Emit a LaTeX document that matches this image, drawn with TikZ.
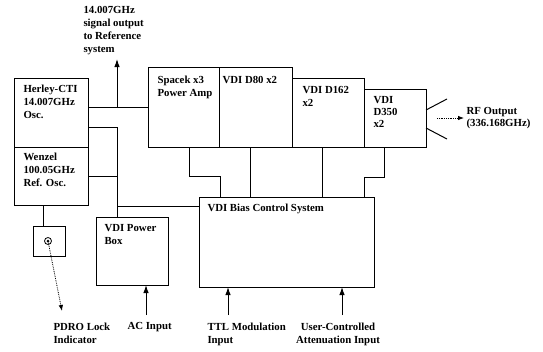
\documentclass[tikz,border=0pt]{standalone}
\usepackage{fontspec}
\setmainfont{Liberation Serif}
\usetikzlibrary{arrows.meta,calc}
\begin{document}
\begin{tikzpicture}[x=1pt,y=-1pt,line width=1pt,
  blk/.style={draw,anchor=north west,inner sep=0pt,outer sep=0pt},
  txt/.style={anchor=north west,inner sep=0pt,align=left,font=\bfseries\fontsize{10.8}{13}\selectfont},
  arr/.style={-{Latex[length=8pt,width=5.5pt]}},
  dotarr/.style={densely dotted,line width=0.8pt,-{Latex[length=6pt,width=4.5pt]}}]
\useasboundingbox (0,0) rectangle (543,351);
% blocks
\node[blk,minimum width=74pt,minimum height=69pt] (herley) at (14,78) {};
\node[blk,minimum width=74pt,minimum height=58pt] (wenzel) at (14,147) {};
\node[blk,minimum width=71pt,minimum height=80pt] (spacek) at (148,67) {};
\node[blk,minimum width=73pt,minimum height=80pt] (d80) at (219,67) {};
\node[blk,minimum width=72pt,minimum height=69pt] (d162) at (292,78) {};
\node[blk,minimum width=62pt,minimum height=58pt] (d350) at (364,89) {};
\node[blk,minimum width=32pt,minimum height=30pt] (pdro) at (33,226) {};
\node[blk,minimum width=72pt,minimum height=68pt] (power) at (96,217) {};
\node[blk,minimum width=175pt,minimum height=90pt] (bias) at (199,197) {};
% texts
\node[txt] (ttop) at (83,6) {14.007GHz\\signal output\\to Reference\\system};
\node[txt] (therley) at (23,85) {Herley-CTI\\14.007GHz\\Osc.};
\node[txt] (twenzel) at (23,153) {Wenzel\\100.05GHz\\Ref. Osc.};
\node[txt] (tspacek) at (157,76) {Spacek x3\\Power Amp};
\node[txt] (td80) at (222,76) {VDI D80 x2};
\node[txt] (td162) at (302,86) {VDI D162\\x2};
\node[txt,font=\bfseries\fontsize{10.8}{12}\selectfont] (td350) at (373,96) {VDI\\D350\\x2};
\node[txt,font=\bfseries\fontsize{10.8}{12}\selectfont] (trf) at (466,107) {RF Output\\(336.168GHz)};
\node[txt] (tpower) at (104,224) {VDI Power\\Box};
\node[txt] (tbias) at (207,204) {VDI Bias Control System};
\node[txt] (tpdro) at (53,322) {PDRO Lock\\Indicator};
\node[txt] (tac) at (127,322) {AC Input};
\node[txt] (tttl) at (207,322) {TTL Modulation\\Input};
\node[txt,anchor=north,align=center] (tuser) at (338,322) {User-Controlled\\Attenuation Input};
% junction coordinates
\coordinate (j1) at (117,107);
\coordinate (jtop) at (117,59);
\coordinate (j2) at (117,127);
\coordinate (j3) at (117,176);
\coordinate (j4) at (117,206);
\coordinate (s1) at (189,176);
\coordinate (s2) at (220,176);
\coordinate (c80) at (250,170);
\coordinate (c162) at (322,170);
\coordinate (e1) at (384,177);
\coordinate (e2) at (364,177);
\coordinate (cw) at (43,215);
\coordinate (a1) at (447,99);
\coordinate (a2) at (447,139);
\coordinate (rf1) at (437,118);
\coordinate (rf2) at (464,118);
\coordinate (led) at (48,241);
\coordinate (ledend) at (62,311);
\coordinate (iac) at (146,315);
\coordinate (ittl) at (228,315);
\coordinate (iuser) at (342,315);
% connectors
\draw (herley.east |- j1) -- (spacek.west |- j1);
\draw[arr] (j1) -- (jtop);
\draw (herley.east |- j2) -- (j2) -- (power.north -| j2);
\draw (wenzel.east |- j3) -- (j3);
\draw (j4) -- (bias.west |- j4);
\draw (spacek.south -| s1) -- (s1) -- (s2) -- (bias.north -| s2);
\draw (d80.south -| c80) -- (bias.north -| c80);
\draw (d162.south -| c162) -- (bias.north -| c162);
\draw (d350.south -| e1) -- (e1) -- (e2) -- (bias.north -| e2);
\draw (wenzel.south -| cw) -- (pdro.north -| cw);
\draw (d350.east |- 0,110) -- (a1);
\draw (d350.east |- 0,128) -- (a2);
\draw[dotarr] (rf1) -- (rf2);
\draw[line width=0.8pt] (led) circle (3.5pt);
\fill (led) circle (1.5pt);
\draw[dotarr] (led) -- (ledend);
\draw[arr] (iac) -- (power.south -| iac);
\draw[arr] (ittl) -- (bias.south -| ittl);
\draw[arr] (iuser) -- (bias.south -| iuser);
\end{tikzpicture}
\end{document}
